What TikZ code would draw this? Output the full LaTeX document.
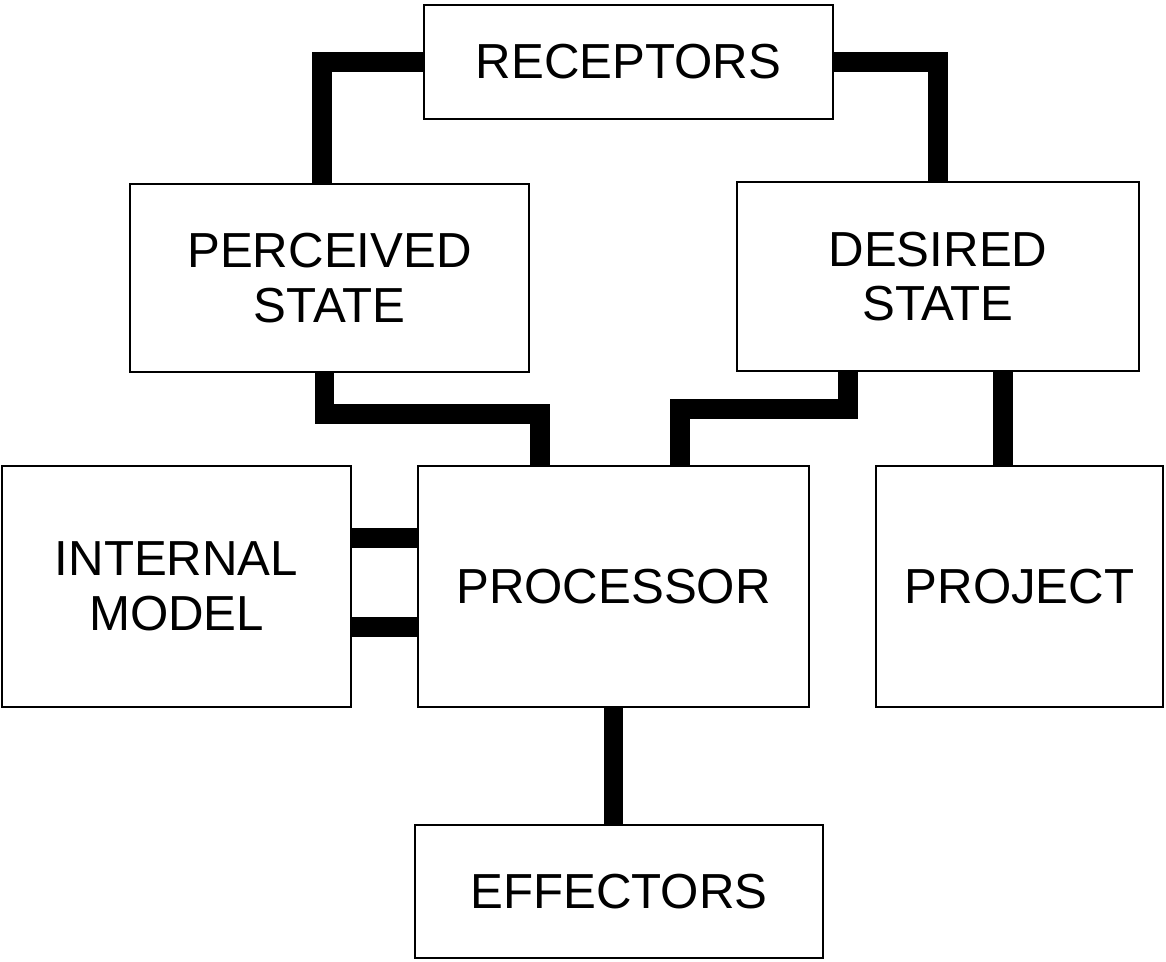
\documentclass[tikz,border=0pt]{standalone}
\usepackage{fontspec}
\setmainfont{Liberation Sans}
\usetikzlibrary{positioning, backgrounds, calc}
\tikzset{
	blocknode/.style={
			shape=rectangle,
			draw=black,
			line width=1.1pt,
			fill=white,
			align=center,
			inner sep=0pt,
			font=\fontsize{28}{31}\selectfont
		},
	linkline/.style={
			line width=11pt,
			draw=black,
			line join=miter,
			line cap=butt
		}
}

\begin{document}
\begin{tikzpicture}
				\useasboundingbox (0,0) rectangle (23.32,-19.22);

				\node[blocknode, minimum width=8.18cm, minimum height=2.28cm] (rec) at (12.57,-1.24) {RECEPTORS};
				\node[blocknode, minimum width=7.98cm, minimum height=3.76cm] (per) at (6.59,-5.56) {PERCEIVED\\STATE};
				\node[blocknode, minimum width=8.04cm, minimum height=3.78cm] (des) at (18.76,-5.53) {DESIRED\\STATE};
				\node[blocknode, minimum width=6.98cm, minimum height=4.82cm] (int) at (3.53,-11.73) {INTERNAL\\MODEL};
				\node[blocknode, minimum width=7.82cm, minimum height=4.82cm] (proc) at (12.27,-11.73) {PROCESSOR};
				\node[blocknode, minimum width=5.74cm, minimum height=4.82cm] (proj) at (20.39,-11.73) {PROJECT};
				\node[blocknode, minimum width=8.16cm, minimum height=2.66cm] (eff) at (12.38,-17.83) {EFFECTORS};

				\coordinate (perin) at ([xshift=-0.15cm]per.north);
				\coordinate (pin) at ([xshift=-1.47cm]proc.north);
				\coordinate (din) at ([xshift=1.33cm]proc.north);

				\begin{scope}[on background layer]
					\draw[linkline] (rec.west) -| (perin);
					\draw[linkline] (rec.east) -| (des.north);

					\draw[linkline] ([xshift=-0.1cm]per.south) -- ++(0,-0.82) -| (pin);
					\draw[linkline] ([xshift=-1.8cm]des.south) -- ++(0,-0.74) -| (din);
					\draw[linkline] ([xshift=1.3cm]des.south) -- ([xshift=1.3cm]des.south |- proj.north);

					\draw[linkline] ([yshift=0.97cm]int.east) -- ([yshift=0.97cm]int.east -| proc.west);
					\draw[linkline] ([yshift=-0.81cm]int.east) -- ([yshift=-0.81cm]int.east -| proc.west);

					\draw[linkline] (proc.south) -- (proc.south |- eff.north);
				\end{scope}

			\end{tikzpicture}
\end{document}
